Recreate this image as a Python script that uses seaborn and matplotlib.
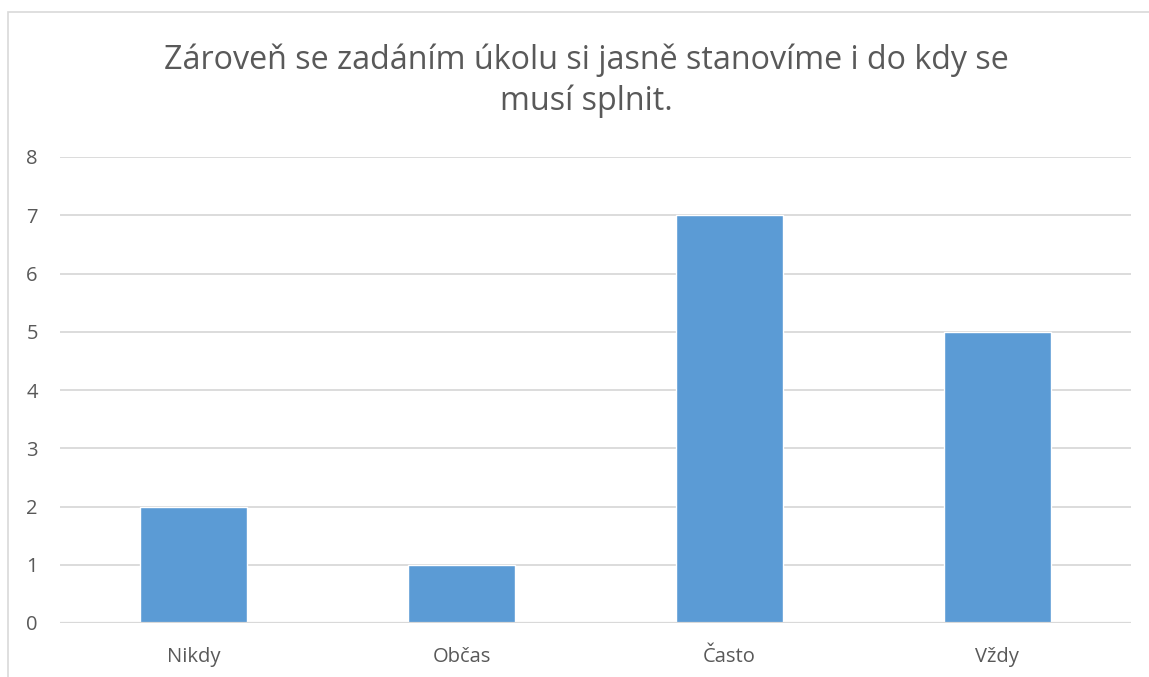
import seaborn as sns
import matplotlib.pyplot as plt
import pandas as pd
from matplotlib.patches import Rectangle

categories = ['Nikdy', 'Občas', 'Často', 'Vždy']
values = [2, 1, 7, 5]
title = 'Zároveň se zadáním úkolu si jasně stanovíme i do kdy se\nmusí splnit.'

df = pd.DataFrame({'odpoved': categories, 'pocet': values})

sns.set_style('white')
plt.rcParams['font.family'] = ['Open Sans', 'DejaVu Sans']
text_color = '#595959'
grid_color = '#D9D9D9'

fig = plt.figure(figsize=(11.49, 6.77), dpi=100)
ax = fig.add_axes([60 / 1149, 1 - 623 / 677, (1131 - 60) / 1149, (623 - 157) / 677])

sns.barplot(data=df, x='odpoved', y='pocet', color='#5B9BD5', width=0.4,
            saturation=1, ax=ax, zorder=3)

ax.set_ylim(0, 8)
ax.set_yticks(range(0, 9))
ax.set_xlim(-0.5, 3.5)
ax.yaxis.grid(True, color=grid_color, linewidth=1.3, zorder=0)
ax.set_axisbelow(True)
for s in ax.spines.values():
    s.set_visible(False)
ax.axhline(0, color=grid_color, linewidth=1.6, zorder=4)
ax.set_xlabel('')
ax.set_ylabel('')
ax.tick_params(axis='y', length=0, pad=16, labelsize=14.5, labelcolor=text_color)
ax.tick_params(axis='x', length=0, pad=17, labelsize=14.5, labelcolor=text_color)

fig.text(586 / 1149, 1 - 81 / 677, title, ha='center', va='center',
         fontsize=23.2, color=text_color, linespacing=1.3)

# chart frame (right and bottom edge fall outside the picture)
fig.patches.append(Rectangle((8 / 1149, -0.1), 1.2, 1 - 12 / 677 + 0.1,
                             transform=fig.transFigure, fill=False,
                             edgecolor=grid_color, linewidth=1.2))

fig.savefig('out.png', dpi=100)
